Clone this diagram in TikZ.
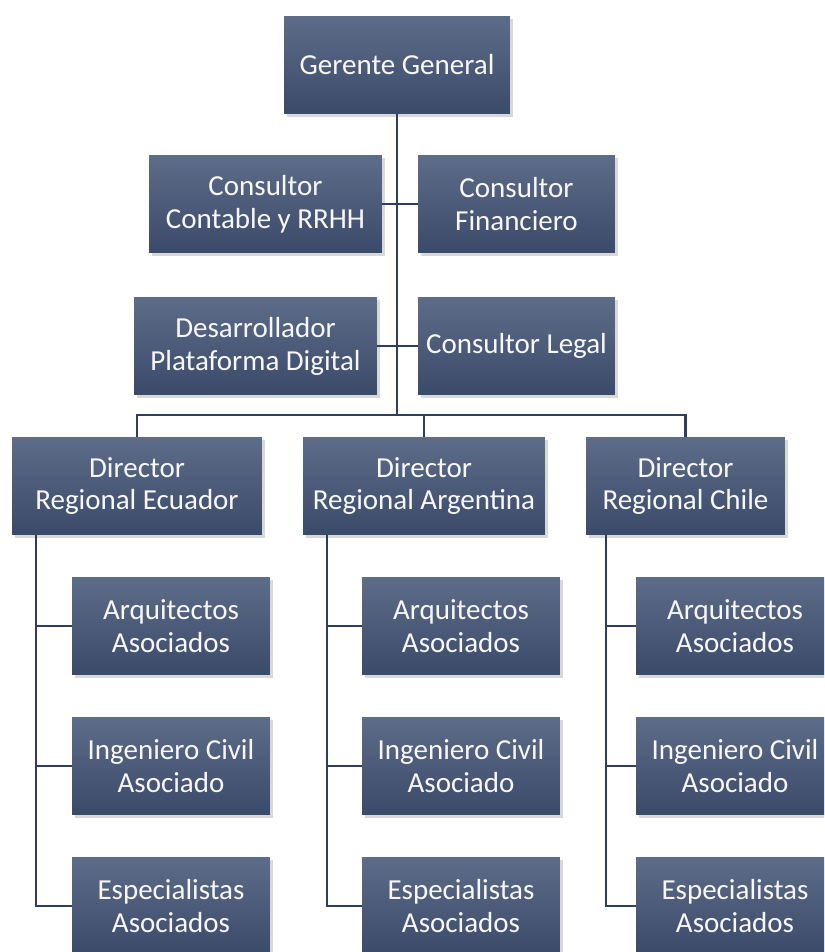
\documentclass[tikz,border=0pt]{standalone}
\usepackage{fontspec}
\setmainfont{Carlito}
\usetikzlibrary{positioning,shadows,calc}
\definecolor{orgtop}{HTML}{5D6C88}
\definecolor{orgbottom}{HTML}{3A4A69}
\definecolor{orgline}{HTML}{2F3E5A}
\tikzset{
  orgbox/.style={
    top color=orgtop,
    bottom color=orgbottom,
    draw=none,
    drop shadow={opacity=0.3,shadow xshift=1.5pt,shadow yshift=-1.5pt},
    minimum height=1.96cm,
    align=center,
    text=white!94!gray,
    font=\fontsize{16.5}{18.7}\selectfont,
    inner sep=2pt
  },
  childbox/.style={orgbox, minimum width=3.96cm},
  link/.style={draw=orgline, line width=1.2pt}
}

\begin{document}
\begin{tikzpicture}[x=0.02cm, y=-0.02cm]
\clip (0,0) rectangle (824,952);
\fill[white] (0,0) rectangle (824,952);

% top level and staff
\node[orgbox, minimum width=4.52cm] (gerente) at (397,65) {Gerente General};
\node[orgbox, minimum width=4.66cm] (contable) at (265.5,204) {Consultor\\Contable y RRHH};
\node[orgbox, minimum width=3.94cm] (financiero) at (516.5,204) {Consultor\\Financiero};
\node[orgbox, minimum width=4.86cm] (desarrollador) at (255.5,346) {Desarrollador\\Plataforma Digital};
\node[orgbox, minimum width=3.94cm] (legal) at (516.5,346) {Consultor Legal};

% regional directors
\node[orgbox, minimum width=5.00cm] (ecu) at (137,486) {Director\\Regional Ecuador};
\node[orgbox, minimum width=4.84cm] (arg) at (424,486) {Director\\Regional Argentina};
\node[orgbox, minimum width=3.98cm] (chi) at (685.5,486) {Director\\Regional Chile};

\coordinate (bus) at (397,415);

\draw[link] (gerente.south) -- (bus);
\draw[link] (contable.east) -- (financiero.west);
\draw[link] (desarrollador.east) -- (legal.west);
\draw[link] (ecu.north) |- (chi.north |- bus) -- (chi.north);
\draw[link] (arg.north) -- (arg.north |- bus);

% associates under each director
\foreach \reg/\cx/\sx in {ecu/171/36, arg/461/327, chi/735/606}{
  \node[childbox] (\reg-arq) at (\cx,626) {Arquitectos\\Asociados};
  \node[childbox] (\reg-ing) at (\cx,766) {Ingeniero Civil\\Asociado};
  \node[childbox] (\reg-esp) at (\cx,906) {Especialistas\\Asociados};
  \coordinate (\reg-top) at (\sx,535);
  \draw[link] (\reg-top) |- (\reg-arq.west);
  \draw[link] (\reg-top) |- (\reg-ing.west);
  \draw[link] (\reg-top) |- (\reg-esp.west);
}
\end{tikzpicture}
\end{document}
